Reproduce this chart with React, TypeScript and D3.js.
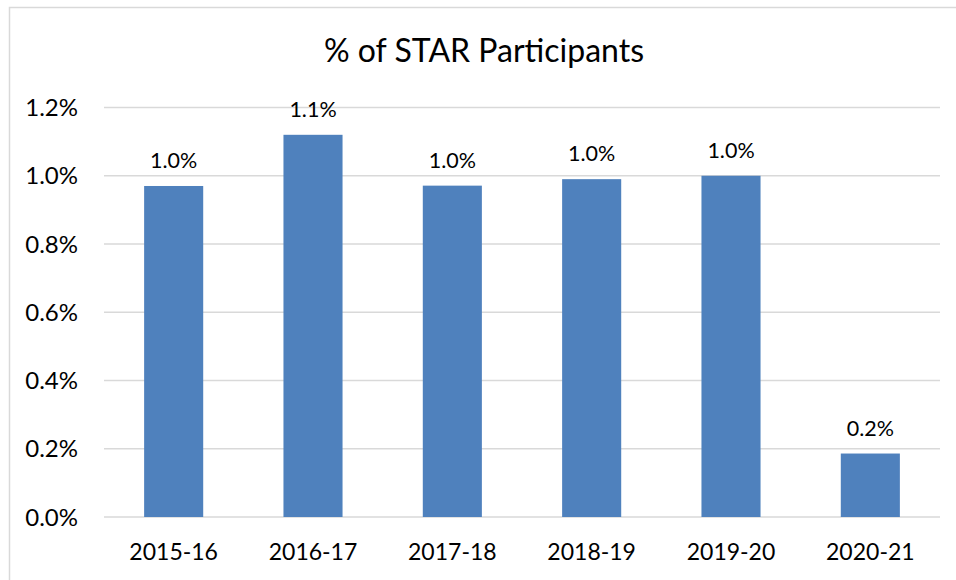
import React from 'react';
import * as d3 from 'd3';

const years = ['2015-16', '2016-17', '2017-18', '2018-19', '2019-20', '2020-21'];
const pctValues = [0.97, 1.12, 0.971, 0.99, 1.0, 0.186];
const pctLabels = ['1.0%', '1.1%', '1.0%', '1.0%', '1.0%', '0.2%'];
const yTicks = [0, 0.2, 0.4, 0.6, 0.8, 1.0, 1.2];

const W = 956;
const H = 580;
const FONT = 'Lato, "Open Sans", sans-serif';

const App = () => {
  const x = d3.scaleBand().domain(years).range([104, 940]).paddingInner(0.576).paddingOuter(0.288);
  const y = d3.scaleLinear().domain([0, 1.2]).range([517, 107.5]);

  return (
    <svg width={W} height={H} style={{ position: 'absolute', left: 0, top: 0 }}>
      <rect x={0} y={0} width={W} height={H} fill="#fff" />
      <rect x={9.5} y={7.5} width={W + 10} height={H + 10} fill="none" stroke="#d9d9d9" strokeWidth={1.5} />

      <text x={484} y={62} textAnchor="middle" fontFamily={FONT} fontSize={32} fill="#000">
        % of STAR Participants
      </text>

      {yTicks.map(t => (
        <g key={t}>
          <line x1={104} x2={940} y1={y(t)} y2={y(t)} stroke="#d9d9d9" strokeWidth={1.5} />
          <text x={78} y={y(t)} dy="0.36em" textAnchor="end" fontFamily={FONT} fontSize={24} fill="#000">
            {d3.format('.1f')(t) + '%'}
          </text>
        </g>
      ))}

      {years.map((yr, i) => (
        <g key={yr}>
          <rect
            x={x(yr)}
            y={y(pctValues[i])}
            width={x.bandwidth()}
            height={y(0) - y(pctValues[i])}
            fill="#4f81bd"
          />
          <text
            x={(x(yr) as number) + x.bandwidth() / 2}
            y={y(pctValues[i]) - 18}
            textAnchor="middle"
            fontFamily={FONT}
            fontSize={21.5}
            fill="#000"
          >
            {pctLabels[i]}
          </text>
          <text
            x={(x(yr) as number) + x.bandwidth() / 2}
            y={560}
            textAnchor="middle"
            fontFamily={FONT}
            fontSize={23}
            fill="#000"
          >
            {yr}
          </text>
        </g>
      ))}
    </svg>
  );
};

export default App;
